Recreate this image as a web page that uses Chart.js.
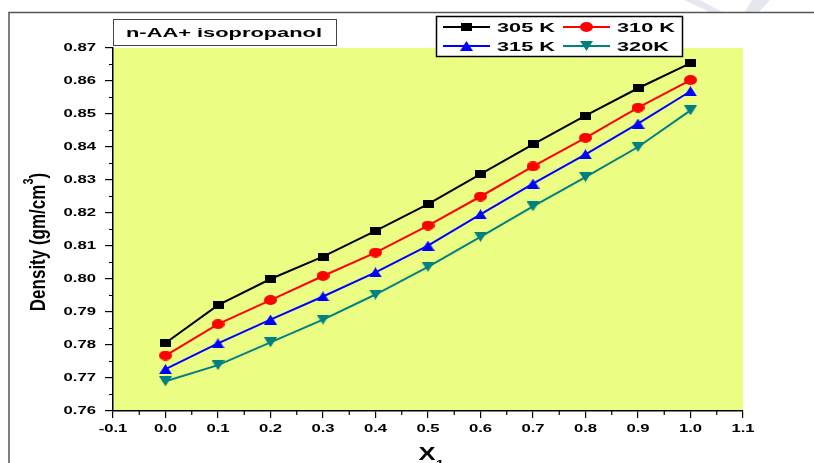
<!DOCTYPE html>
<html>
<head>
<meta charset="utf-8">
<script src="https://cdn.jsdelivr.net/npm/chart.js@4/dist/chart.umd.min.js"></script>
<style>
  html, body { margin: 0; padding: 0; background: #fff; }
  #wrap { position: relative; width: 814px; height: 463px; }
</style>
</head>
<body>
<div id="wrap"><canvas id="densityChart" width="814" height="463"></canvas></div>
<script>
// mole fraction x1 and densities
const moleFraction = [0.0, 0.1, 0.2, 0.3, 0.4, 0.5, 0.6, 0.7, 0.8, 0.9, 1.0];
const density305 = [0.7806, 0.7921, 0.8000, 0.8068, 0.8146, 0.8227, 0.8318, 0.8408, 0.8495, 0.8578, 0.8654];
const density310 = [0.7768, 0.7863, 0.7936, 0.8009, 0.8080, 0.8162, 0.8250, 0.8341, 0.8428, 0.8519, 0.8603];
const density315 = [0.7727, 0.7805, 0.7877, 0.7947, 0.8020, 0.8101, 0.8196, 0.8289, 0.8378, 0.8471, 0.8569];
const density320 = [0.7690, 0.7739, 0.7808, 0.7877, 0.7953, 0.8037, 0.8128, 0.8220, 0.8309, 0.8400, 0.8511];
const seriesLabels = ['305 K', '310 K', '315 K', '320K'];
const xTickRange = [-0.1, 1.1];
const yTickRange = [0.76, 0.87];

const FONT = '"Liberation Sans", Arial, sans-serif';
// the original figure is squeezed vertically, so text and markers are drawn wider than tall
const STRETCH = 1.45;

function toPoints(values) {
    return moleFraction.map((x, i) => ({ x: x, y: values[i] }));
}

// marker images (wide shapes, like the source)
function makeMarker(kind, color) {
    const c = document.createElement('canvas');
    const w = kind === 'rect' ? 11 : 13;
    const h = kind === 'rect' ? 8 : 10;
    c.width = w; c.height = h;
    const g = c.getContext('2d');
    g.fillStyle = color;
    g.beginPath();
    if (kind === 'rect') {
        g.rect(0, 0, w, h);
    } else if (kind === 'circle') {
        g.ellipse(w / 2, h / 2, w / 2, h / 2, 0, 0, Math.PI * 2);
    } else if (kind === 'up') {
        g.moveTo(w / 2, 0); g.lineTo(w, h); g.lineTo(0, h);
    } else {
        g.moveTo(0, 0); g.lineTo(w, 0); g.lineTo(w / 2, h);
    }
    g.closePath();
    g.fill();
    return c;
}

const styles = [
    { color: '#000000', marker: makeMarker('rect', '#000000') },
    { color: '#ff0000', marker: makeMarker('circle', '#ff0000') },
    { color: '#0000ff', marker: makeMarker('up', '#0000ff') },
    { color: '#008080', marker: makeMarker('down', '#008080') }
];

function makeDataset(label, values, s) {
    return {
        label: label,
        data: toPoints(values),
        borderColor: s.color,
        backgroundColor: s.color,
        borderWidth: 2,
        pointStyle: s.marker,
        pointRadius: 6,
        showLine: true,
        tension: 0
    };
}

function stretchedText(ctx, text, x, y, size, sx, align) {
    ctx.save();
    ctx.font = 'bold ' + size + 'px ' + FONT;
    ctx.textAlign = align;
    ctx.textBaseline = 'middle';
    ctx.translate(x, y);
    ctx.scale(sx, 1);
    ctx.fillText(text, 0, 0);
    ctx.restore();
}

// background, frame, minor ticks, labels, boxes and axis titles
const decorPlugin = {
    id: 'decor',
    beforeDraw(chart) {
        const ctx = chart.ctx;
        const a = chart.chartArea;
        ctx.save();
        ctx.fillStyle = '#fff';
        ctx.fillRect(0, 0, chart.width, chart.height);
        // faint watermark chevron
        ctx.fillStyle = '#e4e8ee';
        ctx.beginPath();
        ctx.moveTo(684, 0); ctx.lineTo(700, 0); ctx.lineTo(724, 13); ctx.lineTo(712, 13);
        ctx.closePath(); ctx.fill();
        ctx.beginPath();
        ctx.moveTo(752, 0); ctx.lineTo(770, 0); ctx.lineTo(758, 13); ctx.lineTo(744, 13);
        ctx.closePath(); ctx.fill();
        // outer frame
        ctx.strokeStyle = '#555';
        ctx.lineWidth = 1.5;
        ctx.beginPath();
        ctx.moveTo(9, 470); ctx.lineTo(9, 12.5); ctx.lineTo(820, 12.5);
        ctx.stroke();
        // plot background
        ctx.fillStyle = '#ebfe83';
        ctx.fillRect(a.left, a.top, a.right - a.left, a.bottom - a.top);
        ctx.restore();
    },
    afterDraw(chart) {
        const ctx = chart.ctx;
        const a = chart.chartArea;
        const xs = chart.scales.x;
        const ys = chart.scales.y;
        ctx.save();
        ctx.strokeStyle = '#000';
        ctx.lineWidth = 1.2;
        // minor ticks
        ctx.beginPath();
        for (let i = 0; i < 12; i++) {
            const px = xs.getPixelForValue(-0.05 + i * 0.1);
            ctx.moveTo(px, a.bottom); ctx.lineTo(px, a.bottom + 4);
        }
        for (let i = 0; i < 11; i++) {
            const py = ys.getPixelForValue(0.765 + i * 0.01);
            ctx.moveTo(a.left, py); ctx.lineTo(a.left - 4, py);
        }
        ctx.stroke();

        // tick labels at the library's tick positions
        ctx.fillStyle = '#000';
        xs.ticks.forEach(t => {
            stretchedText(ctx, Number(t.value).toFixed(1), xs.getPixelForValue(t.value), 429, 11.5, STRETCH, 'center');
        });
        ys.ticks.forEach(t => {
            stretchedText(ctx, Number(t.value).toFixed(2), a.left - 17, ys.getPixelForValue(t.value), 11.5, STRETCH, 'right');
        });

        // sample title box
        ctx.fillStyle = '#fff';
        ctx.fillRect(113, 19, 223, 27);
        ctx.strokeStyle = '#444';
        ctx.lineWidth = 1;
        ctx.strokeRect(113.5, 19.5, 223, 26);
        ctx.fillStyle = '#000';
        stretchedText(ctx, 'n-AA+ isopropanol', 224, 33, 13, 1.68, 'center');

        // legend box
        ctx.fillStyle = '#fff';
        ctx.fillRect(436, 16, 247, 41);
        ctx.strokeStyle = '#000';
        ctx.lineWidth = 1.5;
        ctx.strokeRect(436.5, 16.5, 246, 40);
        const slots = [
            { x: 443, y: 27 }, { x: 563, y: 27 },
            { x: 443, y: 46 }, { x: 563, y: 46 }
        ];
        chart.data.datasets.forEach((ds, i) => {
            const s = slots[i];
            ctx.strokeStyle = ds.borderColor;
            ctx.lineWidth = 2;
            ctx.beginPath();
            ctx.moveTo(s.x, s.y); ctx.lineTo(s.x + 47, s.y);
            ctx.stroke();
            const m = ds.pointStyle;
            ctx.drawImage(m, Math.round(s.x + 23.5 - m.width / 2), Math.round(s.y - m.height / 2));
            ctx.fillStyle = '#000';
            stretchedText(ctx, ds.label, s.x + 54, s.y + 1, 13, 1.67, 'left');
        });

        // axis titles
        ctx.fillStyle = '#000';
        stretchedText(ctx, 'X', 427, 455, 19, 1.35, 'center');
        stretchedText(ctx, '1', 440, 465, 11, 1.35, 'center');

        ctx.translate(39, 242);
        ctx.rotate(-Math.PI / 2);
        ctx.scale(1, 1.3);
        ctx.textAlign = 'left';
        ctx.textBaseline = 'middle';
        ctx.font = 'bold 17px ' + FONT;
        const main = 'Density (gm/cm';
        const wMain = ctx.measureText(main).width;
        ctx.font = 'bold 11px ' + FONT;
        const wSup = ctx.measureText('3').width;
        ctx.font = 'bold 17px ' + FONT;
        const wEnd = ctx.measureText(')').width;
        const x0 = -(wMain + wSup + wEnd) / 2;
        ctx.fillText(main, x0, 0);
        ctx.font = 'bold 11px ' + FONT;
        ctx.fillText('3', x0 + wMain, -8);
        ctx.font = 'bold 17px ' + FONT;
        ctx.fillText(')', x0 + wMain + wSup, 0);
        ctx.restore();
    }
};

new Chart(document.getElementById('densityChart'), {
    type: 'scatter',
    data: {
        datasets: [
            makeDataset(seriesLabels[0], density305, styles[0]),
            makeDataset(seriesLabels[1], density310, styles[1]),
            makeDataset(seriesLabels[2], density315, styles[2]),
            makeDataset(seriesLabels[3], density320, styles[3])
        ]
    },
    options: {
        responsive: false,
        animation: false,
        events: [],
        layout: {
            padding: { left: 0, top: 48, right: 71, bottom: 0 }
        },
        plugins: {
            legend: { display: false },
            tooltip: { enabled: false }
        },
        scales: {
            x: {
                type: 'linear',
                min: xTickRange[0],
                max: xTickRange[1],
                afterFit: function(scale) { scale.height = 52; },
                ticks: {
                    stepSize: 0.1,
                    display: false
                },
                grid: {
                    drawOnChartArea: false,
                    drawTicks: true,
                    tickLength: 7,
                    color: '#000',
                    lineWidth: 1.2
                },
                border: { display: true, color: '#000', width: 1.5 }
            },
            y: {
                type: 'linear',
                min: yTickRange[0],
                max: yTickRange[1],
                afterFit: function(scale) { scale.width = 113; },
                ticks: {
                    stepSize: 0.01,
                    display: false
                },
                grid: {
                    drawOnChartArea: false,
                    drawTicks: true,
                    tickLength: 8,
                    color: '#000',
                    lineWidth: 1.2
                },
                border: { display: true, color: '#000', width: 1.5 }
            }
        }
    },
    plugins: [decorPlugin]
});
</script>
</body>
</html>
